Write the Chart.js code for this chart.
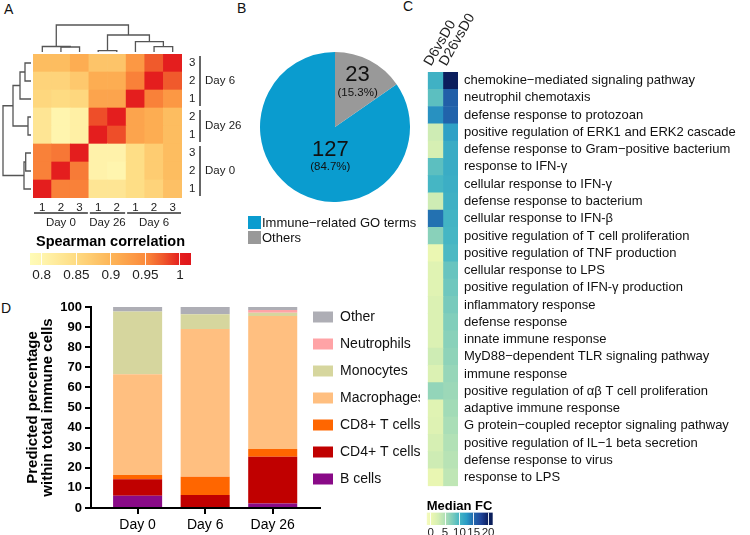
<!DOCTYPE html>
<html><head><meta charset="utf-8">
<script src="https://cdn.jsdelivr.net/npm/chart.js@4.4.1/dist/chart.umd.min.js"></script>
<style>
html,body{margin:0;padding:0;background:#fff;}
body{width:750px;height:535px;position:relative;overflow:hidden;font-family:"Liberation Sans",Arial,sans-serif;color:#111;}
.box{position:absolute;}
.lett{position:absolute;font-size:14px;line-height:14px;color:#111;}
.leg{position:absolute;left:248px;top:215px;font-size:13px;line-height:15px;color:#111;}
.leg div{display:flex;align-items:center;height:15px;white-space:nowrap;}
.leg span.sw{display:inline-block;width:13px;height:13px;margin-right:1px;}
</style></head><body>
<div class="lett" style="left:4px;top:2px">A</div>
<div class="lett" style="left:237px;top:1px">B</div>
<div class="lett" style="left:403px;top:-1px">C</div>
<div class="lett" style="left:1px;top:301px">D</div>

<div class="box" style="left:0;top:40px;width:260px;height:190px"><canvas id="cA"></canvas></div>
<div class="box" style="left:33px;top:24px;width:149px;height:30px"><canvas id="cDT"></canvas></div>
<div class="box" style="left:0;top:54px;width:33px;height:144px"><canvas id="cDL"></canvas></div>
<div class="box" style="left:0;top:230px;width:230px;height:55px"><canvas id="cCA"></canvas></div>
<div class="box" style="left:259.5px;top:52px;width:150px;height:150px"><canvas id="cB"></canvas></div>
<div class="leg" id="legB"></div>
<div class="box" style="left:0;top:290px;width:440px;height:245px"><canvas id="cD"></canvas></div>
<div class="box" style="left:415px;top:0;width:335px;height:500px"><canvas id="cC"></canvas></div>
<div class="box" style="left:415px;top:497px;width:95px;height:38px"><canvas id="cCC"></canvas></div>

<script>
// ---------- Panel A data ----------
const sampleLabels = ['1','2','3','1','2','1','2','3'];
const sampleGroups = ['Day 0','Day 0','Day 0','Day 26','Day 26','Day 6','Day 6','Day 6'];
// row i / column j follow the sample order above (rows drawn bottom -> top)
const spearmanD0_1  = [1.00, 0.955, 0.955, 0.83, 0.83, 0.845, 0.86, 0.885];
const spearmanD0_2  = [0.955, 1.00, 0.958, 0.805, 0.80, 0.845, 0.87, 0.89];
const spearmanD0_3  = [0.955, 0.96, 1.00, 0.805, 0.805, 0.845, 0.87, 0.89];
const spearmanD26_1 = [0.83, 0.80, 0.81, 1.00, 0.98, 0.92, 0.91, 0.89];
const spearmanD26_2 = [0.83, 0.80, 0.81, 0.98, 1.00, 0.92, 0.91, 0.89];
const spearmanD6_1  = [0.855, 0.85, 0.855, 0.92, 0.92, 1.00, 0.955, 0.935];
const spearmanD6_2  = [0.86, 0.86, 0.875, 0.91, 0.91, 0.955, 1.00, 0.975];
const spearmanD6_3  = [0.89, 0.89, 0.91, 0.88, 0.88, 0.935, 0.975, 1.00];
const spearmanRows = [spearmanD0_1, spearmanD0_2, spearmanD0_3, spearmanD26_1, spearmanD26_2, spearmanD6_1, spearmanD6_2, spearmanD6_3];
const spearmanTicks = [0.8, 0.85, 0.9, 0.95, 1];
const spearmanRange = [0.783, 1.016];
// dendrogram merges: [posA, heightA, posB, heightB, mergeHeight]
const colDendro = [[1.5,0,2.5,0,5.0],[0.5,0,2.0,5.0,5.5],[3.5,0,4.5,0,1.3],[6.5,0,7.5,0,5.3],[5.5,0,7.0,5.3,10.3],[4.0,1.3,6.25,10.3,17],[1.25,5.5,5.125,17,27]];
const rowDendro = [[7.5,0,6.5,0,6],[5.5,0,7.0,6,11],[3.5,0,4.5,0,3],[4.0,3,6.25,11,18],[2.5,0,1.5,0,5.3],[0.5,0,2.0,5.3,7],[1.25,7,5.125,18,28]];

// ---------- Panel B data ----------
const pieLabels = ['Immune\u2212related GO terms','Others'];
const pieValues = [127, 23];
const pieColors = ['#0a9ccf','#999999'];

// ---------- Panel C data ----------
const goTerms = ['chemokine\u2212mediated signaling pathway','neutrophil chemotaxis','defense response to protozoan','positive regulation of ERK1 and ERK2 cascade','defense response to Gram\u2212positive bacterium','response to IFN-\u03b3','cellular response to IFN-\u03b3','defense response to bacterium','cellular response to IFN-\u03b2','positive regulation of T cell proliferation','positive regulation of TNF production','cellular response to LPS','positive regulation of IFN-\u03b3 production','inflammatory response','defense response','innate immune response','MyD88\u2212dependent TLR signaling pathway','immune response','positive regulation of \u03b1\u03b2 T cell proliferation','adaptive immune response','G protein\u2212coupled receptor signaling pathway','positive regulation of IL\u22121 beta secretion','defense response to virus','response to LPS'];
const fcColumns = ['D6vsD0','D26vsD0'];
const fcD6  = [10.5, 9, 13, 3, 2.5, 9, 10, 3, 14.5, 7, 0.3, 1.5, 1.5, 2, 2, 2, 3, 2, 6.5, 1.5, 1.7, 2.5, 3, 0.5];
const fcD26 = [20, 15.5, 15.2, 12, 11, 11, 10.8, 10.6, 10.2, 10, 9.7, 8.5, 8.2, 7.8, 7.4, 7, 6.7, 6.3, 6, 5.7, 5.3, 4.9, 4.5, 4];
const fcTicks = [0, 5, 10, 15, 20];
const fcRange = [-1.4, 21.6];

// ---------- Panel D data ----------
const cellDays = ['Day 0','Day 6','Day 26'];
const cellTypes = ['B cells','CD4+ T cells','CD8+ T cells','Macrophages','Monocytes','Neutrophils','Other'];
const bCells = [6.1, 0, 2.3];
const cd4T   = [8.2, 6.5, 23.2];
const cd8T   = [2.1, 9.1, 3.8];
const macro  = [50.1, 73.4, 66.2];
const mono   = [31.2, 7.4, 1.7];
const neutro = [0, 0, 1.3];
const otherC = [2.3, 3.6, 1.5];
const cellSeries = [bCells, cd4T, cd8T, macro, mono, neutro, otherC];
const cellColors = ['#890a87','#c00000','#ff6600','#ffbf80','#d6d69e','#ffa3a6','#aeaeb5'];

// ---------- helpers ----------
const ylorrd = [[0.78,'#fffdb8'],[0.80,'#fff5ae'],[0.85,'#fedb82'],[0.90,'#fdb558'],[0.95,'#fb8b3c'],[0.975,'#f05a2c'],[1.00,'#e41e1e'],[1.02,'#de151b']];
const ylgnbu = [[-2,'#f6fbc5'],[0,'#eef8b2'],[2.5,'#d6efb3'],[5,'#b0e0b6'],[7.5,'#7fcdbb'],[10,'#45b6c4'],[12.5,'#2a9cc6'],[15,'#2166ac'],[17.5,'#20449a'],[20,'#0c1f5e'],[22,'#081d58']];
function hex2rgb(h){return [parseInt(h.substr(1,2),16),parseInt(h.substr(3,2),16),parseInt(h.substr(5,2),16)];}
function colorAt(stops,v){
  if(v<=stops[0][0]) return stops[0][1];
  for(let i=1;i<stops.length;i++){
    if(v<=stops[i][0]){
      const t=(v-stops[i-1][0])/(stops[i][0]-stops[i-1][0]);
      const a=hex2rgb(stops[i-1][1]), b=hex2rgb(stops[i][1]);
      return 'rgb('+a.map((c,k)=>Math.round(c+(b[k]-c)*t)).join(',')+')';
    }
  }
  return stops[stops.length-1][1];
}
function gradFill(stops,min,max){
  return (c)=>{
    const ch=c.chart, ca=ch.chartArea;
    if(!ca) return stops[0][1];
    const g=ch.ctx.createLinearGradient(ca.left,0,ca.right,0);
    for(let k=0;k<=40;k++){ g.addColorStop(k/40, colorAt(stops, min+(max-min)*k/40)); }
    return g;
  };
}
function runs(arr){const r=[];arr.forEach((g,i)=>{if(r.length&&r[r.length-1].g===g)r[r.length-1].e=i;else r.push({g:g,s:i,e:i});});return r;}

Chart.defaults.font.family='"Liberation Sans", Arial, sans-serif';
Chart.defaults.color='#222';
Chart.defaults.animation=false;
const off={legend:{display:false},tooltip:{enabled:false}};

// ---------- Panel A heatmap ----------
const nS=sampleLabels.length;
const groupPlugin={id:'grp',afterDraw(chart){
  const ctx=chart.ctx, x=chart.scales.x, y=chart.scales.y;
  ctx.save(); ctx.strokeStyle='#333'; ctx.lineWidth=1.5; ctx.fillStyle='#222';
  ctx.font='11.5px "Liberation Sans", Arial, sans-serif';
  const cell=x.width/nS;
  runs(sampleGroups).forEach(r=>{
    const y0=y.getPixelForValue(r.s)-2, y1=y.getPixelForValue(r.e+1)+2, bx=y.left+18;
    ctx.beginPath(); ctx.moveTo(bx,y0); ctx.lineTo(bx,y1); ctx.stroke();
    ctx.textAlign='left'; ctx.textBaseline='middle'; ctx.fillText(r.g,bx+5,(y0+y1)/2);
    const x0=x.left+r.s*cell+1, x1=x.left+(r.e+1)*cell-1, ly=x.top+15;
    ctx.beginPath(); ctx.moveTo(x0,ly); ctx.lineTo(x1,ly); ctx.stroke();
    ctx.textAlign='center'; ctx.fillText(r.g,(x0+x1)/2,ly+9.5);
  });
  ctx.restore();
}};
new Chart(document.getElementById('cA'),{
  type:'bar',
  data:{labels:sampleLabels,datasets:spearmanRows.map((row,i)=>({label:sampleGroups[i]+' '+sampleLabels[i],data:row.map(()=>1),backgroundColor:row.map(v=>colorAt(ylorrd,v)),borderWidth:0,barPercentage:1,categoryPercentage:1}))},
  options:{responsive:true,maintainAspectRatio:false,layout:{padding:{left:33,top:14,right:0,bottom:0}},plugins:off,
    scales:{
      x:{stacked:true,grid:{display:false,drawTicks:false},border:{display:false},ticks:{font:{size:11.5},color:'#222',padding:3,maxRotation:0,autoSkip:false},afterFit:s=>{s.height=32;}},
      y:{stacked:true,position:'right',min:0,max:nS,grid:{display:false,drawTicks:false},border:{display:false},
         afterBuildTicks:s=>{s.ticks=sampleLabels.map((l,i)=>({value:i+0.5}));},
         ticks:{font:{size:11.5},color:'#222',padding:7,callback:(v,i)=>sampleLabels[i]},afterFit:s=>{s.width=78;}}
    }},
  plugins:[groupPlugin]
});
function dendroSets(merges,vertical){
  return merges.map(m=>({data: vertical
      ? [{x:m[1],y:m[0]},{x:m[4],y:m[0]},{x:m[4],y:m[2]},{x:m[3],y:m[2]}]
      : [{x:m[0],y:m[1]},{x:m[0],y:m[4]},{x:m[2],y:m[4]},{x:m[2],y:m[3]}],
    showLine:true,borderColor:'#555',borderWidth:1.3,pointRadius:0,tension:0,clip:false}));
}
new Chart(document.getElementById('cDT'),{type:'scatter',data:{datasets:dendroSets(colDendro,false)},
  options:{responsive:true,maintainAspectRatio:false,layout:{padding:{top:1}},plugins:off,
    scales:{x:{type:'linear',min:0,max:nS,display:false},y:{min:-2,max:27,display:false}}}});
new Chart(document.getElementById('cDL'),{type:'scatter',data:{datasets:dendroSets(rowDendro,true)},
  options:{responsive:true,maintainAspectRatio:false,layout:{padding:{left:3}},plugins:off,
    scales:{x:{type:'linear',min:-2,max:28,reverse:true,display:false},y:{min:0,max:nS,display:false}}}});
new Chart(document.getElementById('cCA'),{type:'bar',
  data:{labels:[''],datasets:[{data:[spearmanRange],backgroundColor:gradFill(ylorrd,spearmanRange[0],spearmanRange[1]),borderWidth:0,barPercentage:1,categoryPercentage:1}]},
  options:{indexAxis:'y',responsive:true,maintainAspectRatio:false,layout:{padding:{left:30,right:39}},
    plugins:{legend:{display:false},tooltip:{enabled:false},title:{display:true,text:'Spearman correlation',color:'#000',font:{size:14.5,weight:'bold'},padding:{top:3,bottom:2.5}}},
    scales:{x:{type:'linear',min:spearmanRange[0],max:spearmanRange[1],afterBuildTicks:s=>{s.ticks=spearmanTicks.map(v=>({value:v}));},
        ticks:{font:{size:13.5},color:'#222',padding:2,maxRotation:0,autoSkip:false,callback:v=>String(v)},grid:{color:'rgba(255,255,255,0.9)',lineWidth:1,drawTicks:false,z:1},border:{display:false},afterFit:s=>{s.height=20;}},
      y:{display:false}}}});

// ---------- Panel B pie ----------
const pieTotal=pieValues.reduce((a,b)=>a+b,0);
const pieLabelRadius=[0.42,0.65], pieLabelShift=[-19,0];
const pieLabelPlugin={id:'pieLbl',afterDatasetsDraw(chart){
  const ctx=chart.ctx; ctx.save(); ctx.fillStyle='#111'; ctx.textAlign='center'; ctx.textBaseline='middle';
  chart.getDatasetMeta(0).data.forEach((arc,i)=>{
    const p=arc.getProps(['x','y','startAngle','endAngle','outerRadius'],true);
    const a=(p.startAngle+p.endAngle)/2+pieLabelShift[i]*Math.PI/180, r=p.outerRadius*pieLabelRadius[i];
    const cx=p.x+r*Math.cos(a), cy=p.y+r*Math.sin(a);
    ctx.font='22px "Liberation Sans", Arial, sans-serif'; ctx.fillText(String(pieValues[i]),cx,cy-8.5);
    ctx.font='11.5px "Liberation Sans", Arial, sans-serif'; ctx.fillText('('+(pieValues[i]/pieTotal*100).toFixed(1)+'%)',cx,cy+9);
  });
  ctx.restore();
}};
new Chart(document.getElementById('cB'),{type:'pie',
  data:{labels:pieLabels,datasets:[{data:pieValues,backgroundColor:pieColors,borderWidth:0}]},
  options:{responsive:true,maintainAspectRatio:false,rotation:pieValues[1]/pieTotal*360,plugins:off},
  plugins:[pieLabelPlugin]});
document.getElementById('legB').innerHTML=pieLabels.map((l,i)=>'<div><span class="sw" style="background:'+pieColors[i]+'"></span>'+l+'</div>').join('');

// ---------- Panel C heatmap ----------
new Chart(document.getElementById('cC'),{type:'bar',
  data:{labels:goTerms,datasets:[fcD6,fcD26].map((arr,k)=>({label:fcColumns[k],data:arr.map(()=>1),backgroundColor:arr.map(v=>colorAt(ylgnbu,v)),borderWidth:0,barPercentage:1,categoryPercentage:1}))},
  options:{indexAxis:'y',responsive:true,maintainAspectRatio:false,layout:{padding:{left:11,bottom:9,top:0,right:0}},plugins:off,
    scales:{
      x:{stacked:true,position:'top',min:0,max:fcColumns.length,afterBuildTicks:s=>{s.ticks=fcColumns.map((c,i)=>({value:i+0.5}));},
         ticks:{callback:(v,i)=>fcColumns[i],minRotation:60,maxRotation:60,font:{size:14},color:'#222',padding:3,labelOffset:7,autoSkip:false},
         grid:{display:false,drawTicks:false},border:{display:false},afterFit:s=>{s.height=72;}},
      y:{stacked:true,position:'right',grid:{display:false,drawTicks:false},border:{display:false},
         ticks:{font:{size:13},color:'#111',padding:6,autoSkip:false},afterFit:s=>{s.width=292;}}
    }}});
new Chart(document.getElementById('cCC'),{type:'bar',
  data:{labels:[''],datasets:[{data:[fcRange],backgroundColor:gradFill(ylgnbu,fcRange[0],fcRange[1]),borderWidth:0,barPercentage:1,categoryPercentage:1}]},
  options:{indexAxis:'y',responsive:true,maintainAspectRatio:false,layout:{padding:{left:11.7,right:17.3}},
    plugins:{legend:{display:false},tooltip:{enabled:false},title:{display:true,text:'Median FC',align:'start',color:'#000',font:{size:13,weight:'bold',lineHeight:1},padding:{top:2.5,bottom:0}}},
    scales:{x:{type:'linear',min:fcRange[0],max:fcRange[1],afterBuildTicks:s=>{s.ticks=fcTicks.map(v=>({value:v}));},
        ticks:{font:{size:11.5},color:'#222',padding:1,maxRotation:0,minRotation:0,autoSkip:false},grid:{color:'rgba(255,255,255,0.9)',lineWidth:1,drawTicks:false,z:1},border:{display:false},afterFit:s=>{s.height=10;}},
      y:{display:false}}}});

// ---------- Panel D stacked bars ----------
const legendShift={id:'legShift',afterLayout(chart){const lg=chart.legend; if(!lg) return; lg.left-=20; lg.right-=20; lg.top-=23; lg.bottom-=23;}};
new Chart(document.getElementById('cD'),{type:'bar',
  data:{datasets:cellTypes.map((t,k)=>({label:t,data:cellSeries[k].map((v,i)=>({x:i,y:v})),backgroundColor:cellColors[k],borderWidth:0,barPercentage:0.726,categoryPercentage:1}))},
  options:{responsive:true,maintainAspectRatio:false,layout:{padding:{top:17,left:0,right:0,bottom:0}},
    plugins:{tooltip:{enabled:false},legend:{position:'right',reverse:true,maxWidth:120,labels:{boxWidth:20,boxHeight:11,padding:13,font:{size:14},color:'#111'}}},
    scales:{
      x:{type:'linear',stacked:true,offset:false,min:-0.69,max:2.70,afterBuildTicks:s=>{s.ticks=cellDays.map((d,i)=>({value:i}));},
         ticks:{callback:(v,i)=>cellDays[i],font:{size:14},color:'#000',padding:3,maxRotation:0},
         grid:{offset:false,drawOnChartArea:false,drawTicks:true,tickLength:6,color:'#000',lineWidth:2},border:{color:'#000',width:2},afterFit:s=>{s.height=27;}},
      y:{stacked:true,min:0,max:100,ticks:{stepSize:10,font:{size:13,weight:'bold'},color:'#000',padding:3},
         grid:{drawOnChartArea:false,drawTicks:true,tickLength:6,color:'#000',lineWidth:2},border:{color:'#000',width:2},
         title:{display:true,text:['Predicted percentage','within total immune cells'],color:'#000',font:{size:15,weight:'bold',lineHeight:1},padding:{top:25,bottom:0}},
         afterFit:s=>{s.width=91;}}
    }},
  plugins:[legendShift]});
</script>
</body></html>
